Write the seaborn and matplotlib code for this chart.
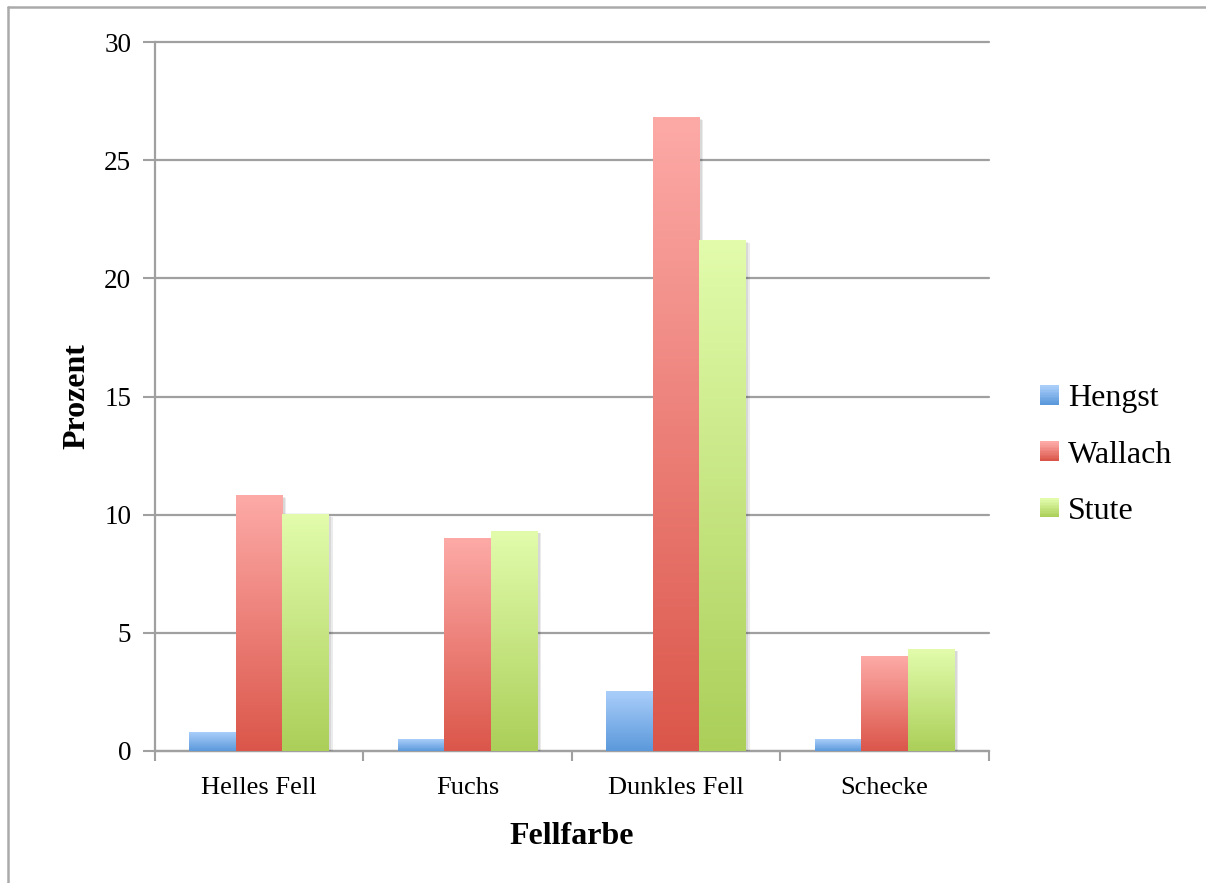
import numpy as np
import pandas as pd
import matplotlib
matplotlib.use("Agg")
import matplotlib.pyplot as plt
import matplotlib.patheffects as pe
from matplotlib.colors import LinearSegmentedColormap
from matplotlib.patches import Rectangle
from matplotlib.legend_handler import HandlerBase
import seaborn as sns

# Data
categories = ["Helles Fell", "Fuchs", "Dunkles Fell", "Schecke"]
series = ["Hengst", "Wallach", "Stute"]
hengst = [0.8, 0.5, 2.5, 0.5]
wallach = [10.8, 9.0, 26.8, 4.0]
stute = [10.0, 9.3, 21.6, 4.3]
yticks = [0, 5, 10, 15, 20, 25, 30]

# Gradient colours per series (top, bottom)
gradients = {
    "Hengst": ("#aacefa", "#5b99db"),
    "Wallach": ("#fdaaa7", "#db564a"),
    "Stute": ("#e2fcac", "#abcf59"),
}

df = pd.DataFrame({
    "Fellfarbe": categories * 3,
    "Geschlecht": [s for s in series for _ in categories],
    "Prozent": hengst + wallach + stute,
})

sns.set_theme(style="white")
plt.rcParams["font.family"] = ["Liberation Serif", "DejaVu Serif"]
plt.rcParams["text.color"] = "black"
plt.rcParams["axes.labelcolor"] = "black"
plt.rcParams["xtick.labelcolor"] = "black"
plt.rcParams["ytick.labelcolor"] = "black"

fig = plt.figure(figsize=(12.06, 8.83), dpi=100)
ax = fig.add_axes([0.1285, 0.1495, 0.6915, 0.8029])

sns.barplot(data=df, x="Fellfarbe", y="Prozent", hue="Geschlecht",
            order=categories, hue_order=series, width=0.67,
            palette=[gradients[s][1] for s in series],
            errorbar=None, ax=ax, legend=False, zorder=3)

# Replace flat fills with vertical gradients, keep a soft drop shadow
bars_by_series = [ax.patches[i * len(categories):(i + 1) * len(categories)]
                  for i in range(len(series))]
for s, bars in zip(series, bars_by_series):
    cmap = LinearSegmentedColormap.from_list(s, [gradients[s][1], gradients[s][0]])
    grad = np.linspace(0, 1, 256).reshape(-1, 1)
    for p in bars:
        x, y, w, h = p.get_x(), p.get_y(), p.get_width(), p.get_height()
        p.set_facecolor("white")
        p.set_edgecolor("none")
        p.set_path_effects([pe.SimplePatchShadow(offset=(2.5, -1.5), shadow_rgbFace="#000000", alpha=0.08),
                            pe.SimplePatchShadow(offset=(1.5, -1), shadow_rgbFace="#000000", alpha=0.08),
                            pe.Normal()])
        ax.imshow(grad, cmap=cmap, origin="lower", aspect="auto",
                  extent=(x, x + w, y, y + h), zorder=4, interpolation="bilinear")

ax.set_xlim(-0.5, len(categories) - 0.5)
ax.set_ylim(0, 30)
ax.set_yticks(yticks)
ax.set_yticklabels([str(v) for v in yticks])

# Category labels centred, tick marks at category boundaries
ax.set_xticks(np.arange(len(categories)), minor=True)
ax.set_xticklabels(categories, minor=True)
ax.set_xticks(np.arange(-0.5, len(categories), 1.0))
ax.set_xticklabels([])
ax.tick_params(axis="x", which="minor", length=0, pad=19, labelsize=19, labelcolor="black")
ax.tick_params(axis="x", which="major", direction="out", length=7, width=1.5,
               color="#a0a0a0", bottom=True)
ax.tick_params(axis="y", direction="out", length=9, width=1.5, color="#a0a0a0",
               left=True, pad=8, labelsize=19.5, labelcolor="black")

ax.grid(axis="y", color="#a0a0a0", linewidth=1.6, zorder=0)
for gl in ax.get_ygridlines():
    gl.set_clip_on(False)
ax.set_axisbelow(True)
for side in ["top", "right"]:
    ax.spines[side].set_visible(False)
for side in ["left", "bottom"]:
    ax.spines[side].set_color("#a0a0a0")
    ax.spines[side].set_linewidth(1.6)

ax.set_xlabel("Fellfarbe", fontsize=23, fontweight="bold", labelpad=16, color="black")
ax.set_ylabel("Prozent", fontsize=23, fontweight="bold", labelpad=9, color="black")


class GradientHandler(HandlerBase):
    def __init__(self, top, bottom):
        super().__init__()
        self.top, self.bottom = top, bottom

    def create_artists(self, legend, orig_handle, xdescent, ydescent, width, height,
                       fontsize, trans):
        cmap = LinearSegmentedColormap.from_list("g", [self.bottom, self.top])
        n = 12
        size = min(width, height * 1.1)
        y0 = -ydescent + (height - size) / 2
        arts = []
        for k in range(n):
            r = Rectangle((-xdescent, y0 + size * k / n), size, size / n + 0.3,
                          facecolor=cmap(k / (n - 1)), edgecolor="none", transform=trans)
            arts.append(r)
        return arts


handles = [Rectangle((0, 0), 1, 1) for _ in series]
fig.legend(handles, series, loc="center left", bbox_to_anchor=(0.862, 0.4845),
           frameon=False, fontsize=23, handlelength=0.6, handleheight=0.6,
           handletextpad=0.3, labelspacing=0.86, borderpad=0, borderaxespad=0,
           labelcolor="black",
           handler_map={h: GradientHandler(*gradients[s]) for h, s in zip(handles, series)})

# Outer frame lines along top and left edges
fig.add_artist(plt.Line2D([8 / 1206, 1], [1 - 7 / 883, 1 - 7 / 883], color="#aaaaaa",
                          linewidth=1.8, transform=fig.transFigure))
fig.add_artist(plt.Line2D([8 / 1206, 8 / 1206], [0, 1 - 7 / 883], color="#aaaaaa",
                          linewidth=1.8, transform=fig.transFigure))

fig.savefig("out.png", dpi=100, facecolor="white")
